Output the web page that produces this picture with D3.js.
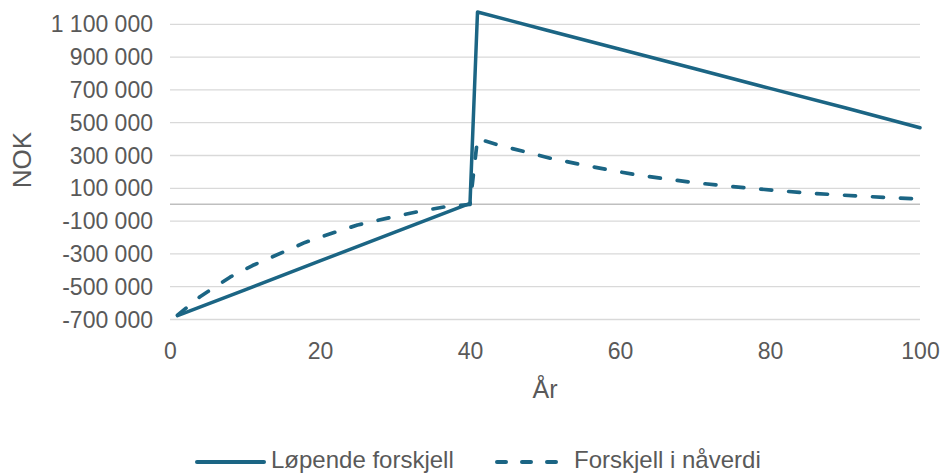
<!DOCTYPE html>
<html>
<head>
<meta charset="utf-8">
<script src="https://cdn.jsdelivr.net/npm/d3@7"></script>
<style>
  body { margin: 0; background: #fff; }
  svg { display: block; font-family: "Liberation Sans", Arial, sans-serif; }
</style>
</head>
<body>
<svg width="941" height="474"></svg>
<script>
// values
const xTicks = [0, 20, 40, 60, 80, 100];
const yTicks = [-700000, -500000, -300000, -100000, 100000, 300000, 500000, 700000, 900000, 1100000];

const runningYears  = [1, 10, 20, 30, 40, 41, 50, 60, 70, 80, 90, 100];
const runningValues = [-680000, -522000, -346000, -170000, 5000, 1172000, 1064000, 945000, 826000, 706000, 588000, 466000];

const pvYears  = [1, 4, 8, 11, 15, 18, 22, 25, 29, 33, 37, 40, 41, 44, 48, 51, 55, 59, 62, 66, 70, 74, 78, 81, 85, 89, 93, 96, 100];
const pvValues = [-676000, -564000, -445000, -374000, -294000, -233000, -171000, -127000, -85000, -46000, -13000, -2000,
                  400000, 358000, 312000, 277000, 240000, 205000, 181000, 155000, 131000, 112000, 95000, 83000, 68000, 57000, 47000, 40000, 32000];

const seriesNames = ["Løpende forskjell", "Forskjell i nåverdi"];

const lineColor = "#1b6584";
const textColor = "#595959";

const svg = d3.select("svg");

const x = d3.scaleLinear().domain([0, 100]).range([170, 920]);
const y = d3.scaleLinear().domain([-700000, 1200000]).range([319, 7.4]);

const nok = d3.formatLocale({ decimal: ",", thousands: " ", grouping: [3], currency: ["", ""], minus: "-" });
const fmt = nok.format(",d");

// grid + y labels
const yAxis = svg.append("g")
    .attr("transform", "translate(170,0)")
    .call(d3.axisLeft(y).tickValues(yTicks).tickSize(-750).tickPadding(17).tickFormat(fmt));
yAxis.select(".domain").remove();
yAxis.selectAll("line").attr("stroke", "#d9d9d9").attr("stroke-width", 1.3);
yAxis.selectAll("text")
    .attr("fill", textColor)
    .style("font-size", "23px")
    .attr("dy", "0.35em");

// zero line
svg.append("line")
    .attr("x1", 170).attr("x2", 920)
    .attr("y1", y(0)).attr("y2", y(0))
    .attr("stroke", "#bfbfbf")
    .attr("stroke-width", 1.5);

// x labels
const xAxis = svg.append("g")
    .attr("transform", "translate(0,319)")
    .call(d3.axisBottom(x).tickValues(xTicks).tickSize(0).tickPadding(24));
xAxis.select(".domain").remove();
xAxis.selectAll("text")
    .attr("fill", textColor)
    .style("font-size", "23px");

// axis titles
svg.append("text")
    .attr("x", 545).attr("y", 398)
    .attr("text-anchor", "middle")
    .attr("fill", textColor)
    .style("font-size", "25px")
    .text("År");

svg.append("text")
    .attr("transform", "translate(31,160) rotate(-90)")
    .attr("text-anchor", "middle")
    .attr("fill", textColor)
    .style("font-size", "26px")
    .text("NOK");

const line = d3.line()
    .x(d => x(d[0]))
    .y(d => y(d[1]));

const pvData = pvYears.map((yr, i) => [yr, pvValues[i]]);
const runData = runningYears.map((yr, i) => [yr, runningValues[i]]);

svg.append("path")
    .datum(pvData)
    .attr("fill", "none")
    .attr("stroke", lineColor)
    .attr("stroke-width", 3.7)
    .attr("stroke-linecap", "round")
    .attr("stroke-linejoin", "round")
    .attr("stroke-dasharray", "11 17")
    .attr("d", line);

svg.append("path")
    .datum(runData)
    .attr("fill", "none")
    .attr("stroke", lineColor)
    .attr("stroke-width", 3.5)
    .attr("stroke-linecap", "round")
    .attr("stroke-linejoin", "round")
    .attr("d", line);

// legend
const legend = svg.append("g");

legend.append("line")
    .attr("x1", 197).attr("x2", 264)
    .attr("y1", 462).attr("y2", 462)
    .attr("stroke", lineColor)
    .attr("stroke-width", 4)
    .attr("stroke-linecap", "round");

legend.append("text")
    .attr("x", 271).attr("y", 468)
    .attr("fill", textColor)
    .style("font-size", "24px")
    .text(seriesNames[0]);

legend.append("line")
    .attr("x1", 497).attr("x2", 568)
    .attr("y1", 462).attr("y2", 462)
    .attr("stroke", lineColor)
    .attr("stroke-width", 4)
    .attr("stroke-linecap", "round")
    .attr("stroke-dasharray", "9 16");

legend.append("text")
    .attr("x", 574).attr("y", 468)
    .attr("fill", textColor)
    .style("font-size", "24px")
    .text(seriesNames[1]);
</script>
</body>
</html>
